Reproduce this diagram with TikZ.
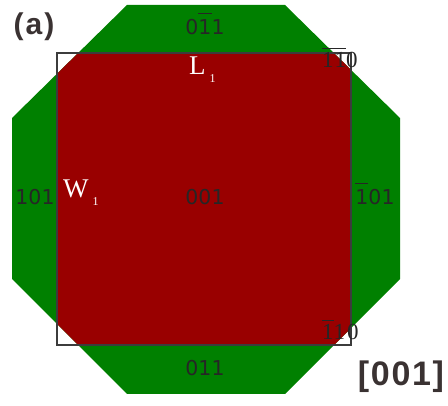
\documentclass[tikz,border=0pt]{standalone}
\usepackage{fontspec}
\setmainfont{Liberation Serif}
\newfontfamily\labsans{DejaVu Sans}
\newfontfamily\boldsans{Liberation Sans}
\newsavebox\obbox
\newcommand\ob[2][18pt]{\leavevmode\sbox\obbox{#2}\rlap{\rule[#1]{\wd\obbox}{0.9pt}}\usebox\obbox}
\definecolor{facegreen}{HTML}{008000}
\definecolor{facered}{HTML}{990000}
\definecolor{edgegray}{HTML}{3C3C3C}
\definecolor{titlegray}{HTML}{3A3232}
\definecolor{idxgray}{HTML}{262626}
\begin{document}
\begin{tikzpicture}[x=1pt,y=-1pt,
  idxsans/.style={inner sep=0pt,text=idxgray,font=\labsans\fontsize{20.5}{20.5}\selectfont},
  idxserif/.style={inner sep=0pt,text=idxgray,font=\fontsize{23}{23}\selectfont\addfontfeature{LetterSpace=8}},
  dimlab/.style={inner sep=0pt,text=white,font=\fontsize{27}{27}\selectfont},
  title/.style 2 args={inner sep=0pt,text=titlegray,font=\boldsans\bfseries\fontsize{#1}{#1}\selectfont\addfontfeature{LetterSpace=#2}}]
\useasboundingbox (0,0) rectangle (448,406);
% octagon corners
\coordinate (o1) at (127,5);
\coordinate (o2) at (285,5);
\coordinate (o3) at (400,118);
\coordinate (o4) at (400,279);
\coordinate (o5) at (285,394);
\coordinate (o6) at (127,394);
\coordinate (o7) at (12,279);
\coordinate (o8) at (12,118);
\coordinate (r1) at (57,53);
\coordinate (r2) at (351,345);
\fill[facegreen] (o1) -- (o2) -- (o3) -- (o4) -- (o5) -- (o6) -- (o7) -- (o8) -- cycle;
\begin{scope}
  \clip (o1) -- (o2) -- (o3) -- (o4) -- (o5) -- (o6) -- (o7) -- (o8) -- cycle;
  \fill[facered] (r1) rectangle (r2);
\end{scope}
\draw[edgegray,line width=1.8pt] (r1) rectangle (r2);
% labels
\node[title={30}{7}] (ta) at (34,27) {(a)};
\node[title={34}{5}] (tz) at (401,377) {[001]};
\node[idxsans,anchor=base] (f1) at (205,35) {0\ob[21pt]{1}1};
\node[idxsans,anchor=base] (f2) at (205,376) {011};
\node[idxsans,anchor=base] (f3) at (35,205) {101};
\node[idxsans,anchor=base] (f4) at (205,205) {001};
\node[idxsans,anchor=base] (f5) at (375,205) {\ob[21pt]{1}01};
\node[idxserif,anchor=base west] (e1) at (322,68) {\ob[19pt]{11}0};
\node[idxserif,anchor=base west] (e2) at (322,340) {\ob[19pt]{1}10};
\node[dimlab,anchor=base west] (L) at (189,75) {L\raisebox{-8pt}{\fontsize{12}{12}\selectfont\hspace{4pt}1}};
\node[dimlab,anchor=base west] (W) at (63,198) {W\raisebox{-8pt}{\fontsize{12}{12}\selectfont\hspace{4pt}1}};
\end{tikzpicture}
\end{document}
